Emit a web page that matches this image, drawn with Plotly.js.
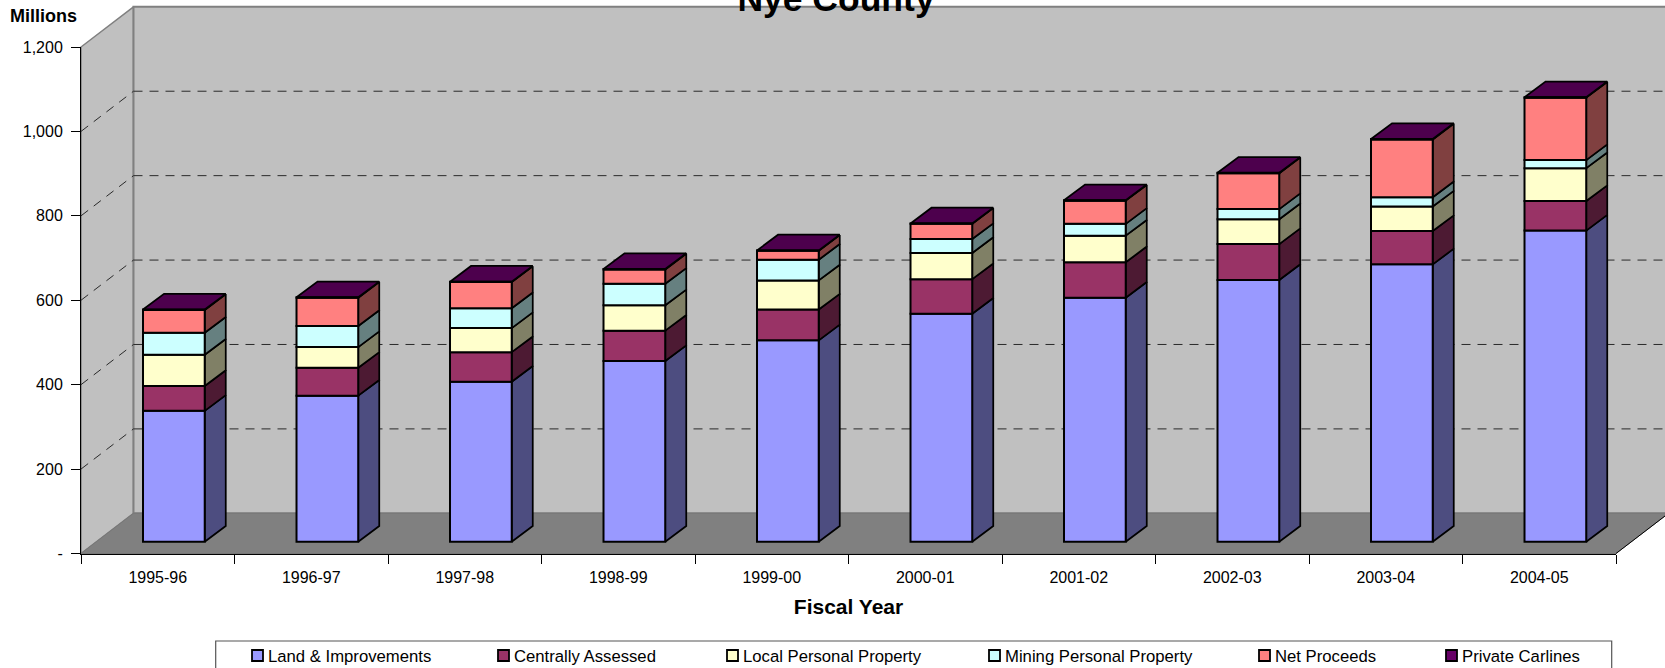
<!DOCTYPE html>
<html>
<head>
<meta charset="utf-8">
<script src="https://cdn.plot.ly/plotly-3.0.1.min.js"></script>
<style>html,body{margin:0;padding:0;background:#fff;overflow:hidden}#chart{width:1665px;height:668px}</style>
</head>
<body>
<div id="chart"></div>
<script>
// ---- data (millions) ----
const categories = ['1995-96','1996-97','1997-98','1998-99','1999-00','2000-01','2001-02','2002-03','2003-04','2004-05'];
const land          = [310,346,379,428,477,540,578,620,657,737];
const centrally     = [59,66,70,72,73,82,84,85,79,70];
const localPersonal = [74,49,57,60,69,62,63,59,58,78];
const miningPersonal= [52,50,47,51,49,33,28,24,22,19];
const netProceeds   = [54,67,62,34,21,36,55,85,137,148];
const carlines      = [1,1,1,1,1,1,1,1,1,1];
const seriesNames   = ['Land & Improvements','Centrally Assessed','Local Personal Property','Mining Personal Property','Net Proceeds','Private Carlines'];
const seriesValues  = [land,centrally,localPersonal,miningPersonal,netProceeds,carlines];
const yTickVals     = [0,200,400,600,800,1000,1200];
const yTickText     = ['-','200','400','600','800','1,000','1,200'];

// ---- styles ----
const frontColors = ['#9999FF','#993366','#FFFFCC','#CCFFFF','#FF8080','#660066'];
const sideColors  = ['#4D4D80','#4D1A33','#808066','#668080','#804040','#330033'];
const topColor = '#4D004D';
const FONT = '"Liberation Sans", Arial, sans-serif';
const W = 1665, H = 668;

// ---- frame of the visible axes, in page pixels ----
const axisLeft = 81, axisRight = 1616, axisTop = 47, axisBottom = 553.5;
const YMAX = 1200, XL = -0.5, XR = 9.5;
const unitX = (axisRight - axisLeft) / (XR - XL), unitY = (axisBottom - axisTop) / YMAX;

// ---- pseudo-3D geometry, in axis units ----
const wallDX = 0.342, wallDY = 95.2;      // depth of the chart box
const barLift = 28;                       // bars' front plane above the axis plane
const barOffset = -0.096, barWidth = 0.402;
const barDX = 0.137, barDY = 37.2;        // depth of one bar

const fx = px => px / W, fy = py => 1 - py / H;

function poly(xs, ys, fill, line, lw, name) {
  return {type:'scatter', mode:'lines', x:xs, y:ys, xaxis:'x', yaxis:'y', fill:'toself', fillcolor:fill,
          line:{color:line, width:lw}, cliponaxis:false, showlegend:false, hoverinfo:'skip', name:name};
}
function dashed(xs, ys) {
  return {type:'scatter', mode:'lines', x:xs, y:ys, xaxis:'x', yaxis:'y',
          line:{color:'#2a2a2a', width:1, dash:'9px,7px'}, cliponaxis:false, showlegend:false, hoverinfo:'skip'};
}

const traces = [];
// walls and floor
traces.push(poly([XL,XL+wallDX,XL+wallDX,XL,XL],[0,wallDY,YMAX+wallDY,YMAX,0],'#C0C0C0','#808080',1.5,'side wall'));
traces.push(poly([XL+wallDX,XR+wallDX,XR+wallDX,XL+wallDX,XL+wallDX],[wallDY,wallDY,YMAX+wallDY,YMAX+wallDY,wallDY],'#C0C0C0','#808080',2,'back wall'));
traces.push(poly([XL,XR,XR+wallDX,XL+wallDX,XL],[0,0,wallDY,wallDY,0],'#808080','#777777',1,'floor'));
traces.push({type:'scatter', mode:'lines', x:[XR,XR+wallDX], y:[0,wallDY], xaxis:'x', yaxis:'y',
             line:{color:'#000', width:1}, cliponaxis:false, showlegend:false, hoverinfo:'skip'});
// gridlines on the walls
yTickVals.slice(1,-1).forEach(v => {
  traces.push(dashed([XL,XL+wallDX],[v,v+wallDY]));
  traces.push(dashed([XL+wallDX,XR+wallDX],[v+wallDY,v+wallDY]));
});
// side faces of every stacked segment, computed from the values
const cum = categories.map(() => 0);
const bases = [];
seriesValues.forEach((vals, s) => {
  const xs = [], ys = [];
  bases.push(cum.map(c => c + barLift));
  vals.forEach((v, k) => {
    const x0 = k + barOffset + barWidth, b = cum[k] + barLift, t = b + v;
    xs.push(x0, x0+barDX, x0+barDX, x0, x0, null);
    ys.push(b, b+barDY, t+barDY, t, b, null);
    cum[k] += v;
  });
  traces.push(poly(xs, ys, sideColors[s], '#000', 1.75, seriesNames[s]+' side'));
});
// top faces
{
  const xs = [], ys = [];
  cum.forEach((c, k) => {
    const x0 = k + barOffset, x1 = x0 + barWidth, t = c + barLift;
    xs.push(x0, x1, x1+barDX, x0+barDX, x0, null);
    ys.push(t, t, t+barDY, t+barDY, t, null);
  });
  traces.push(poly(xs, ys, topColor, '#000', 1.75, 'top'));
}
// front faces: real bars, stacked through their base
seriesValues.forEach((vals, s) => {
  traces.push({type:'bar', name:seriesNames[s], x:categories, y:vals, base:bases[s], xaxis:'x2', yaxis:'y2',
    offset:barOffset, width:barWidth, showlegend:false,
    marker:{color:frontColors[s], line:{color:'#000', width:2}}});
});

// legend drawn as shapes and text to keep the reference's uneven spacing
const legendX = [252,498,727,989,1259,1446];
const shapes = [{type:'rect', xref:'paper', yref:'paper', x0:fx(215.7), x1:fx(1611.7), y0:fy(690), y1:fy(641),
                 line:{color:'#555', width:1.2}, fillcolor:'#fff', layer:'above'}];
const annotations = [];
seriesNames.forEach((n, i) => {
  shapes.push({type:'rect', xref:'paper', yref:'paper', x0:fx(legendX[i]), x1:fx(legendX[i]+11), y0:fy(661), y1:fy(650),
               line:{color:'#000', width:1.8}, fillcolor:frontColors[i], layer:'above'});
  annotations.push({xref:'paper', yref:'paper', x:fx(legendX[i]+15.5), y:fy(656), xanchor:'left', yanchor:'middle',
                    text:n, showarrow:false, font:{family:FONT, size:16.7, color:'#000'}, borderpad:0, borderwidth:0});
});
annotations.push({xref:'paper', yref:'paper', x:fx(9), y:fy(16), xanchor:'left', yanchor:'middle', text:'<b>Millions</b>',
                  showarrow:false, font:{family:FONT, size:18, color:'#000'}, borderpad:0});

const layout = {
  width:W, height:H, autosize:false, paper_bgcolor:'#fff', plot_bgcolor:'rgba(0,0,0,0)',
  margin:{l:0, r:0, t:0, b:0, pad:0},
  font:{family:FONT, size:16, color:'#000'},
  showlegend:false, barmode:'overlay', hovermode:'closest',
  title:{text:'<b>Nye County</b>', font:{family:FONT, size:35.5, color:'#000'}, x:836/W, xref:'container', xanchor:'center',
         y:1-11/H, yref:'container', yanchor:'bottom'},
  // full-canvas hidden axes carrying walls, gridlines and bar depth
  xaxis:{type:'linear', domain:[0,1], range:[XL-axisLeft/unitX, XR+(W-axisRight)/unitX], visible:false, fixedrange:true},
  yaxis:{type:'linear', domain:[0,1], range:[-(H-axisBottom)/unitY, YMAX+axisTop/unitY], visible:false, fixedrange:true},
  // visible axes carrying the bars
  xaxis2:{type:'category', domain:[fx(axisLeft),fx(axisRight)], anchor:'y2', side:'bottom', range:[XL,XR], categoryorder:'array', categoryarray:categories,
          tickson:'boundaries', ticks:'outside', ticklen:9, tickwidth:1, tickcolor:'#000', showline:true, linecolor:'#000', linewidth:1,
          showgrid:false, zeroline:false, fixedrange:true, tickfont:{family:FONT, size:16, color:'#000'}, ticklabelstandoff:9,
          title:{text:'<b>Fiscal Year</b>', font:{family:FONT, size:21, color:'#000'}, standoff:14}},
  yaxis2:{type:'linear', domain:[fy(axisBottom),fy(axisTop)], anchor:'x2', side:'left', range:[0,YMAX], tickmode:'array', tickvals:yTickVals, ticktext:yTickText,
         ticks:'outside', ticklen:9, tickwidth:1, tickcolor:'#000', showline:true, linecolor:'#000', linewidth:1, ticklabelstandoff:5,
         showgrid:false, zeroline:false, fixedrange:true, tickfont:{family:FONT, size:16, color:'#000'}},
  shapes:shapes, annotations:annotations
};
Plotly.newPlot('chart', traces, layout, {displayModeBar:false, responsive:false});
</script>
</body>
</html>
